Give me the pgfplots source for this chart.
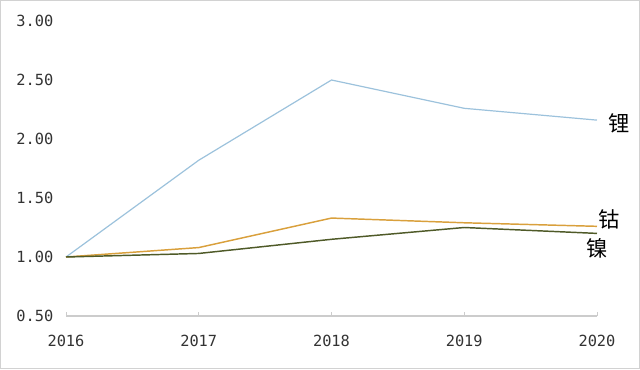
\documentclass[border=0pt]{standalone}
\usepackage{fontspec}
\usepackage{pgfplots}
\pgfplotsset{compat=1.18}
\newfontfamily\monof{DejaVu Sans Mono}
\newfontfamily\cjk{Noto Sans CJK SC}
\definecolor{li}{HTML}{9CC2DC}
\definecolor{co}{HTML}{D9A03C}
\definecolor{ni}{HTML}{4F5A28}
\definecolor{txt}{HTML}{333333}
\begin{document}
\begin{tikzpicture}
\draw[gray!35, line width=0.8pt] (0.4pt,0.4pt) rectangle (479.6pt,276.35pt);
\begin{axis}[
  at={(49.5pt,39.75pt)}, anchor=south west,
  scale only axis, width=398.25pt, height=221.25pt,
  xmin=2016, xmax=2020, ymin=0.5, ymax=3,
  clip=false,
  axis x line=bottom, axis y line=left,
  y axis line style={draw=none},
  x axis line style={draw=gray!40, line width=0.8pt, -},
  xtick={2016,2017,2018,2019,2020},
  xticklabels={2016,2017,2018,2019,2020},
  ytick={0.5,1,1.5,2,2.5,3},
  yticklabels={0.50,1.00,1.50,2.00,2.50,3.00},
  ytick style={draw=none},
  xtick style={draw=gray!40, line width=0.6pt},
  tick align=inside, major tick length=3pt,
  ticklabel style={font=\monof\fontsize{11.5}{12}\selectfont, text=txt},
  /pgf/number format/assume math mode=true,
  yticklabel style={xshift=-6pt},
  xticklabel style={yshift=-11pt},
]
\addplot[li, line width=0.9pt] coordinates {(2016,1.00) (2017,1.82) (2018,2.50) (2019,2.26) (2020,2.16)};
\addplot[co, line width=1.1pt] coordinates {(2016,1.00) (2017,1.08) (2018,1.33) (2019,1.29) (2020,1.26)};
\addplot[ni, line width=1.1pt] coordinates {(2016,1.00) (2017,1.03) (2018,1.15) (2019,1.25) (2020,1.20)};
\node[font=\cjk\fontsize{16}{16}\selectfont, text=black] at (axis cs:2020.165,2.136) {锂};
\node[font=\cjk\fontsize{16}{16}\selectfont, text=black] at (axis cs:2020.09,1.322) {钴};
\node[font=\cjk\fontsize{16}{16}\selectfont, text=black] at (axis cs:2020.0,1.07) {镍};
\end{axis}
\end{tikzpicture}
\end{document}
